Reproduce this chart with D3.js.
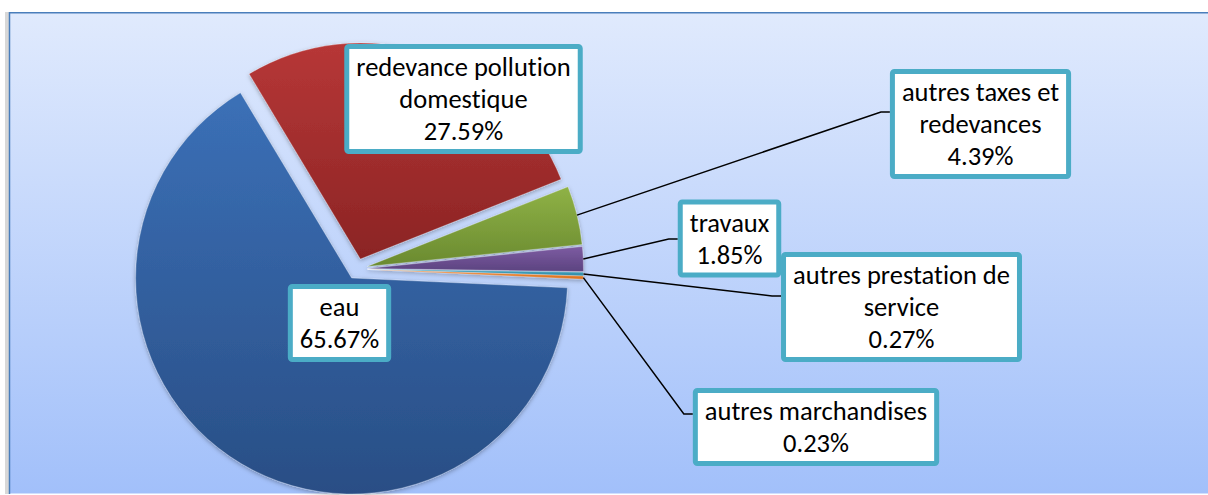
<!DOCTYPE html>
<html>
<head>
<meta charset="utf-8">
<script src="https://cdn.jsdelivr.net/npm/d3@7/dist/d3.min.js"></script>
<style>
	body { margin: 0; background: #fff; }
	svg text { font-family: Carlito, Calibri, Lato, sans-serif; font-size: 26.5px; fill: #000; font-variant-ligatures: none; }
</style>
</head>
<body>
<div class="canvas"></div>
<script>
// donnees du graphique
const categories = [
	'eau',
	'redevance pollution domestique',
	'autres taxes et redevances',
	'travaux',
	'autres prestation de service',
	'autres marchandises'
];
const shares = [65.67, 27.59, 4.39, 1.85, 0.27, 0.23];

// couleurs des parts (haut, bas du degrade)
const topColours = ['#3b70b7', '#b73737', '#8fb246', '#7d5ca2', '#4aa9c4', '#f38d3a'];
const bottomColours = ['#294e85', '#8b2424', '#6a8a30', '#5c4380', '#2f8aa6', '#d9701c'];

// placement des etiquettes (centre de la boite, largeur de retour a la ligne, fin du trait)
const labelLayout = [
	{ cx: 339.5, cy: 323, wrap: 90, leader: null },
	{ cx: 463.5, cy: 99, wrap: 240, leader: null },
	{ cx: 980.5, cy: 124, wrap: 180, leader: 112 },
	{ cx: 729.5, cy: 238.5, wrap: 90, leader: 239 },
	{ cx: 901.5, cy: 307, wrap: 240, leader: 296 },
	{ cx: 816, cy: 427, wrap: 270, leader: 414 }
];

const width = 1208;
const height = 495;
const centre = { x: 357, y: 269 };
const radius = 216;
const explode = 10.5;
const startDeg = 92.6;

const svg = d3
	.select('.canvas')
	.append('svg')
	.attr('width', width)
	.attr('height', height);

const defs = svg.append('defs');

// fond degrade
const bg = defs
	.append('linearGradient')
	.attr('id', 'bg')
	.attr('gradientUnits', 'userSpaceOnUse')
	.attr('x1', 0).attr('y1', 12)
	.attr('x2', 0).attr('y2', 493);
bg.append('stop').attr('offset', 0).attr('stop-color', '#e0eafd');
bg.append('stop').attr('offset', 1).attr('stop-color', '#a2c0fa');

const shadow = defs
	.append('filter')
	.attr('id', 'shadow')
	.attr('x', '-10%').attr('y', '-10%')
	.attr('width', '120%').attr('height', '120%');
shadow
	.append('feDropShadow')
	.attr('dx', 0).attr('dy', 1.5)
	.attr('stdDeviation', 2)
	.attr('flood-color', '#000')
	.attr('flood-opacity', 0.3);

// cadre
svg.append('rect')
	.attr('x', 5).attr('y', 12)
	.attr('width', 5).attr('height', 482)
	.attr('fill', '#d8d8d8');
svg.append('rect')
	.attr('x', 9).attr('y', 12.5)
	.attr('width', width).attr('height', 481)
	.attr('fill', 'url(#bg)');
svg.append('path')
	.attr('d', `M9.5,494V12.75H${width}`)
	.attr('fill', 'none')
	.attr('stroke', '#4a7ebb')
	.attr('stroke-width', 1.5);

const data = categories.map((name, i) => ({ name, share: shares[i], i }));

const pie = d3
	.pie()
	.sort(null)
	.value((d) => d.share)
	.startAngle((startDeg * Math.PI) / 180)
	.endAngle((startDeg * Math.PI) / 180 + 2 * Math.PI);

const arc = d3.arc().innerRadius(0).outerRadius(radius);
const rimArc = d3.arc().innerRadius(radius).outerRadius(radius);

const slices = pie(data);

// decalage de chaque part
const offset = (d) => {
	const a = (d.startAngle + d.endAngle) / 2;
	return [explode * Math.sin(a), -explode * Math.cos(a)];
};

slices.forEach((d) => {
	const g = defs
		.append('linearGradient')
		.attr('id', 'grad' + d.data.i)
		.attr('x1', 0).attr('y1', 0)
		.attr('x2', 0).attr('y2', 1);
	g.append('stop').attr('offset', 0).attr('stop-color', topColours[d.data.i]);
	g.append('stop').attr('offset', 1).attr('stop-color', bottomColours[d.data.i]);
});

const pieGroup = svg
	.append('g')
	.attr('transform', `translate(${centre.x}, ${centre.y})`)
	.attr('filter', 'url(#shadow)');

pieGroup
	.selectAll('path')
	.data(slices)
	.enter()
	.append('path')
	.attr('d', arc)
	.attr('transform', (d) => `translate(${offset(d)})`)
	.attr('fill', (d) => `url(#grad${d.data.i})`)
	.attr('stroke', 'rgba(255,255,255,0.35)')
	.attr('stroke-width', 0.8);

// etiquettes
const fmt = (v) => d3.format('.2f')(v) + '%';
const lineH = 32;
const padV = 7;
const padH = 12;

const labels = svg.append('g');

slices.forEach((d) => {
	const lay = labelLayout[d.data.i];
	const g = labels.append('g');
	const rect = g.append('rect');
	const text = g.append('text').attr('text-anchor', 'middle');

	// retour a la ligne
	const words = d.data.name.split(' ');
	const lines = [];
	let line = [];
	const probe = text.append('tspan');
	words.forEach((w) => {
		const test = line.concat(w).join(' ');
		probe.text(test);
		if (line.length && probe.node().getComputedTextLength() > lay.wrap) {
			lines.push(line.join(' '));
			line = [w];
		} else {
			line.push(w);
		}
	});
	lines.push(line.join(' '));
	lines.push(fmt(d.data.share));
	probe.remove();

	const h = lines.length * lineH + padV * 2;
	const top = lay.cy - h / 2;
	lines.forEach((l, k) => {
		text.append('tspan')
			.attr('x', lay.cx)
			.attr('y', top + padV + 25 + k * lineH)
			.text(l);
	});
	const w = d3.max(text.selectAll('tspan').nodes(), (n) => n.getComputedTextLength()) + padH * 2;
	const left = lay.cx - w / 2;

	rect
		.attr('x', left + 2.5).attr('y', top + 2.5)
		.attr('width', w - 5).attr('height', h - 5)
		.attr('rx', 2)
		.attr('fill', '#fff')
		.attr('stroke', '#4bacc6')
		.attr('stroke-width', 5);

	if (lay.leader !== null) {
		const [sx, sy] = rimArc.centroid(d);
		const [ox, oy] = offset(d);
		const start = [centre.x + sx + ox, centre.y + sy + oy];
		svg.insert('path', 'g:last-child')
			.attr('d', d3.line()([start, [left - 9, lay.leader], [left, lay.leader]]))
			.attr('fill', 'none')
			.attr('stroke', '#000')
			.attr('stroke-width', 1.5);
	}
});
</script>
</body>
</html>
